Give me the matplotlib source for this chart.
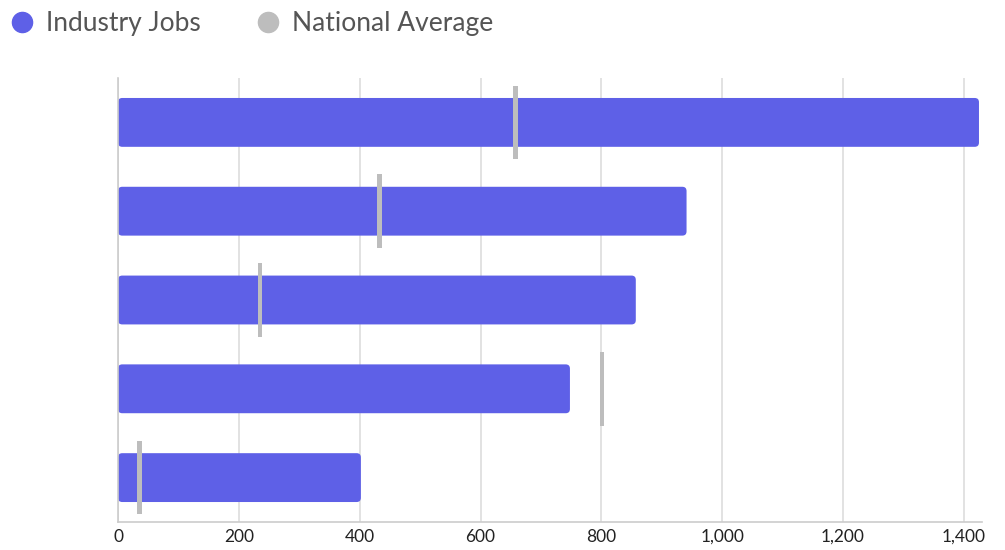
import matplotlib.pyplot as plt
import numpy as np
from matplotlib.patches import FancyBboxPatch
from matplotlib.lines import Line2D

plt.rcParams['font.family'] = ['Lato', 'DejaVu Sans']

categories = ['A', 'B', 'C', 'D', 'E']
industry_jobs = [1425, 941, 857, 748, 402]
national_avg = [658, 433, 235, 801, 35]
ticks = [0, 200, 400, 600, 800, 1000, 1200, 1400]

bar_color = '#5e60e7'
avg_color = '#bdbdbd'
grid_color = '#dddddd'

fig = plt.figure(figsize=(10.05, 5.5), dpi=100)
ax = fig.add_axes([118 / 1005, 28 / 550, 864 / 1005, 444 / 550])

y = np.arange(len(categories))
bars = ax.barh(y, industry_jobs, height=0.55, color=bar_color, zorder=2)
ax.set_xlim(0, 1430)
ax.set_ylim(len(categories) - 0.5, -0.5)

# round the bar corners
aspect = (1 / 88.8) / (1 / 0.6045)
for b in bars:
    b.set_visible(False)
    p = FancyBboxPatch((b.get_x(), b.get_y()), b.get_width(), b.get_height(),
                       boxstyle='round,pad=0,rounding_size=7', mutation_aspect=aspect,
                       fc=bar_color, ec='none', zorder=2)
    ax.add_patch(p)

ax.barh(y, 8, left=np.array(national_avg) - 4, height=0.83, color=avg_color, zorder=3)

ax.set_yticks([])
ax.set_xticks(ticks)
ax.set_xticklabels(['{:,}'.format(t) for t in ticks], fontsize=12.5, color='#222222')
ax.tick_params(axis='x', length=0, pad=5)
ax.grid(axis='x', color=grid_color, lw=1.2, zorder=0)
for s in ['top', 'right']:
    ax.spines[s].set_visible(False)
for s in ['left', 'bottom']:
    ax.spines[s].set_color('#cccccc')
    ax.spines[s].set_linewidth(1.2)

handles = [Line2D([], [], marker='o', ls='none', ms=14.5, color=bar_color, label='Industry Jobs'),
           Line2D([], [], marker='o', ls='none', ms=14.5, color=avg_color, label='National Average')]
fig.legend(handles=handles, loc='upper left', bbox_to_anchor=(9 / 1005, 1 - 11 / 550), ncol=2,
           frameon=False, fontsize=19, labelcolor='#555555', handletextpad=0.41,
           columnspacing=2.04, handlelength=1.0, borderpad=0, borderaxespad=0)

fig.savefig('out.png', dpi=100)
